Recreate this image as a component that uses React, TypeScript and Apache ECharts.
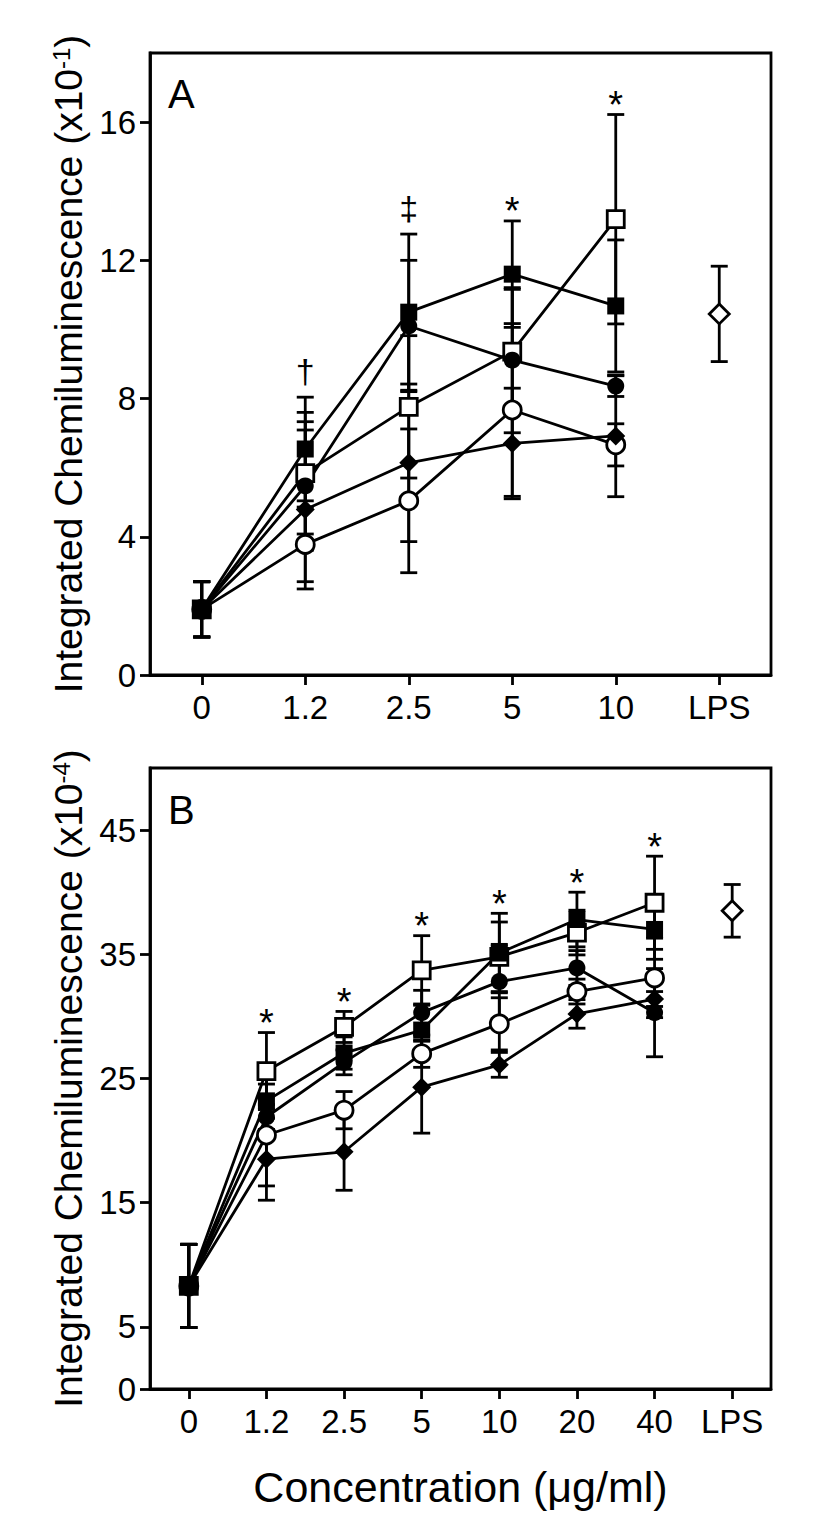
import React, { useEffect, useRef } from 'react';
import * as echarts from 'echarts';

// ---------- Panel A data ----------
const categoriesA = ['0', '1.2', '2.5', '5', '10', 'LPS'];
const yTicksA = [0, 4, 8, 12, 16];
const aOpenSquare = [1.9, 5.84, 7.76, 9.36, 13.19];
const aOpenSquareErr = [0.8, 1.76, 2.06, 1.8, 3.03];
const aOpenCircle = [1.9, 3.78, 5.04, 7.67, 6.66];
const aOpenCircleErr = [0.8, 1.08, 2.08, 2.5, 0.61];
const aDiamond = [1.9, 4.79, 6.14, 6.7, 6.92];
const aDiamondErr = [0.8, 2.3, 2.28, 1.6, 1.76];
const aFilledCircle = [1.9, 5.47, 10.1, 9.11, 8.36];
const aFilledCircleErr = [0.8, 1.86, 1.9, 2.1, 0.3];
const aFilledSquare = [1.9, 6.54, 10.5, 11.6, 10.68];
const aFilledSquareErr = [0.8, 1.5, 2.26, 1.54, 1.91];
const aLPS = 10.45;
const aLPSErr = 1.38;
const annotA = ['', '†', '‡', '*', '*', ''];

// ---------- Panel B data ----------
const categoriesB = ['0', '1.2', '2.5', '5', '10', '20', '40', 'LPS'];
const yTicksB = [0, 5, 15, 25, 35, 45];
const bOpenSquare = [8.3, 25.6, 29.15, 33.7, 34.8, 36.75, 39.15];
const bOpenSquareErr = [3.35, 3.1, 1.25, 2.8, 2.8, 1.8, 3.75];
const bOpenCircle = [8.3, 20.45, 22.45, 27.0, 29.4, 32.0, 33.1];
const bOpenCircleErr = [3.35, 4.1, 1.5, 1.1, 2.1, 1.0, 3.2];
const bDiamond = [8.3, 18.5, 19.1, 24.3, 26.1, 30.2, 31.4];
const bDiamondErr = [3.35, 3.3, 3.1, 3.7, 1.0, 1.15, 0.6];
const bFilledCircle = [8.3, 21.9, 26.3, 30.3, 32.8, 33.9, 30.3];
const bFilledCircleErr = [3.35, 1.0, 1.0, 1.8, 3.0, 1.4, 3.55];
const bFilledSquare = [8.3, 23.2, 27.05, 28.9, 35.1, 37.8, 37.0];
const bFilledSquareErr = [3.35, 2.4, 1.3, 2.1, 3.2, 2.2, 2.4];
const bLPS = 38.5;
const bLPSErr = 2.12;
const annotB = ['', '*', '*', '*', '*', '*', '*', ''];

const FONT = 'Arial, "Liberation Sans", Helvetica, sans-serif';
const LW = 2.8;

type Marker = { symbol: string; size: number; open: boolean };
const OPEN_SQ: Marker = { symbol: 'rect', size: 17, open: true };
const OPEN_CI: Marker = { symbol: 'circle', size: 18, open: true };
const DIAM: Marker = { symbol: 'diamond', size: 19, open: false };
const FILL_CI: Marker = { symbol: 'circle', size: 17, open: false };
const FILL_SQ: Marker = { symbol: 'rect', size: 17, open: false };
const OPEN_DIAM: Marker = { symbol: 'diamond', size: 20, open: true };

function errorSeries(idx: number, vals: number[], errs: number[], offset = 0) {
  return {
    type: 'custom',
    xAxisIndex: idx,
    yAxisIndex: idx,
    z: 3,
    silent: true,
    encode: { x: 0, y: [1, 2] },
    data: vals.map((v, i) => [i + offset, v - errs[i], v + errs[i]]),
    renderItem: (params: any, api: any) => {
      const x = api.value(0);
      const lo = api.coord([x, api.value(1)]);
      const hi = api.coord([x, api.value(2)]);
      const w = 8.5;
      const style = { stroke: '#000', lineWidth: LW };
      return {
        type: 'group',
        children: [
          { type: 'line', shape: { x1: hi[0], y1: hi[1], x2: lo[0], y2: lo[1] }, style },
          { type: 'line', shape: { x1: hi[0] - w, y1: hi[1], x2: hi[0] + w, y2: hi[1] }, style },
          { type: 'line', shape: { x1: lo[0] - w, y1: lo[1], x2: lo[0] + w, y2: lo[1] }, style },
        ],
      };
    },
  };
}

function lineSeries(idx: number, vals: number[]) {
  return {
    type: 'line',
    xAxisIndex: idx,
    yAxisIndex: idx,
    z: 2,
    silent: true,
    showSymbol: false,
    symbol: 'none',
    data: vals,
    lineStyle: { color: '#000', width: LW, opacity: 1 },
  };
}

function markerSeries(idx: number, vals: number[], m: Marker, offset = 0) {
  return {
    type: 'scatter',
    xAxisIndex: idx,
    yAxisIndex: idx,
    z: 4,
    silent: true,
    symbol: m.symbol,
    symbolSize: m.size,
    data: vals.map((v, i) => [i + offset, v]),
    itemStyle: m.open
      ? { color: '#fff', borderColor: '#000', borderWidth: LW, opacity: 1 }
      : { color: '#000', borderColor: '#000', borderWidth: 0, opacity: 1 },
  };
}

function annotSeries(idx: number, labels: string[], groups: { v: number[]; e: number[] }[]) {
  const data: any[] = [];
  labels.forEach((t, i) => {
    if (!t) return;
    let top = -Infinity;
    groups.forEach((g) => {
      if (i < g.v.length) top = Math.max(top, g.v[i] + g.e[i]);
    });
    const isStar = t === '*';
    data.push({
      value: [i, top],
      label: {
        show: true,
        formatter: t,
        position: 'top',
        distance: isStar ? -10 : 9,
        fontSize: isStar ? 38 : 34,
        fontFamily: FONT,
        color: '#000',
        opacity: 1,
      },
    });
  });
  return {
    type: 'scatter',
    xAxisIndex: idx,
    yAxisIndex: idx,
    z: 5,
    silent: true,
    symbolSize: 1,
    itemStyle: { color: 'rgba(0,0,0,0)', opacity: 1 },
    data,
  };
}

function panelLabel(text: string, left: number, top: number) {
  return {
    type: 'text',
    left,
    top,
    style: { text, font: `40px ${FONT}`, fill: '#000' },
  };
}

export default function App() {
  const ref = useRef<HTMLDivElement>(null);

  useEffect(() => {
    if (!ref.current) return;
    const chart = echarts.init(ref.current, undefined, { renderer: 'svg' });

    const groupsA = [
      { v: aOpenSquare, e: aOpenSquareErr, m: OPEN_SQ },
      { v: aOpenCircle, e: aOpenCircleErr, m: OPEN_CI },
      { v: aDiamond, e: aDiamondErr, m: DIAM },
      { v: aFilledCircle, e: aFilledCircleErr, m: FILL_CI },
      { v: aFilledSquare, e: aFilledSquareErr, m: FILL_SQ },
    ];
    const groupsB = [
      { v: bOpenSquare, e: bOpenSquareErr, m: OPEN_SQ },
      { v: bOpenCircle, e: bOpenCircleErr, m: OPEN_CI },
      { v: bDiamond, e: bDiamondErr, m: DIAM },
      { v: bFilledCircle, e: bFilledCircleErr, m: FILL_CI },
      { v: bFilledSquare, e: bFilledSquareErr, m: FILL_SQ },
    ];

    const series: any[] = [];
    [groupsA, groupsB].forEach((groups, idx) => {
      groups.forEach((g) => series.push(lineSeries(idx, g.v)));
      groups.forEach((g) => series.push(errorSeries(idx, g.v, g.e)));
      groups.forEach((g) => series.push(markerSeries(idx, g.v, g.m)));
    });
    // LPS points
    series.push(errorSeries(0, [aLPS], [aLPSErr], categoriesA.length - 1));
    series.push(markerSeries(0, [aLPS], OPEN_DIAM, categoriesA.length - 1));
    series.push(errorSeries(1, [bLPS], [bLPSErr], categoriesB.length - 1));
    series.push(markerSeries(1, [bLPS], OPEN_DIAM, categoriesB.length - 1));
    // significance marks
    series.push(annotSeries(0, annotA, groupsA));
    series.push(annotSeries(1, annotB, groupsB));

    const axisLineStyle = { color: '#000', width: LW };
    const labelStyle = { fontSize: 33, fontFamily: FONT, color: '#000' };

    const makeX = (cats: string[], gridIndex: number, withName: boolean) => ({
      type: 'category',
      gridIndex,
      data: cats,
      boundaryGap: true,
      axisLine: { show: true, lineStyle: axisLineStyle },
      axisTick: { show: true, alignWithLabel: true, length: 10, lineStyle: axisLineStyle },
      axisLabel: { ...labelStyle, margin: 16, interval: 0 },
      splitLine: { show: false },
      name: withName ? 'Concentration (μg/ml)' : '',
      nameLocation: 'middle',
      nameGap: 76,
      nameTextStyle: { fontSize: 43, fontFamily: FONT, color: '#000' },
    });

    const makeY = (gridIndex: number, max: number, ticks: number[], exp: string) => ({
      type: 'value',
      gridIndex,
      min: 0,
      max,
      interval: ticks[1] - ticks[0],
      axisLine: { show: true, lineStyle: axisLineStyle },
      axisTick: { show: true, length: 10, lineStyle: axisLineStyle, customValues: ticks },
      axisLabel: { ...labelStyle, margin: 14, customValues: ticks },
      splitLine: { show: false },
      name: `{t|Integrated Chemiluminescence (x10}{s|${exp}}{t|)}`,
      nameLocation: 'middle',
      nameGap: 60,
      nameTextStyle: {
        color: '#000',
        rich: {
          t: { fontSize: 39, fontFamily: FONT, color: '#000' },
          s: { fontSize: 24, fontFamily: FONT, color: '#000', verticalAlign: 'top' },
        },
      },
    });

    chart.setOption({
      animation: false,
      backgroundColor: '#fff',
      grid: [
        { left: 150, top: 53, width: 621, height: 622, show: true, borderColor: '#000', borderWidth: LW, backgroundColor: 'transparent' },
        { left: 150, top: 768, width: 621, height: 621, show: true, borderColor: '#000', borderWidth: LW, backgroundColor: 'transparent' },
      ],
      xAxis: [makeX(categoriesA, 0, false), makeX(categoriesB, 1, true)],
      yAxis: [makeY(0, 18, yTicksA, '-1'), makeY(1, 50, yTicksB, '-4')],
      graphic: [panelLabel('A', 168, 74), panelLabel('B', 168, 790)],
      series,
    });

    return () => chart.dispose();
  }, []);

  return (
    <div
      ref={ref}
      style={{ position: 'absolute', left: 0, top: 0, width: 827, height: 1536, background: '#fff' }}
    />
  );
}
